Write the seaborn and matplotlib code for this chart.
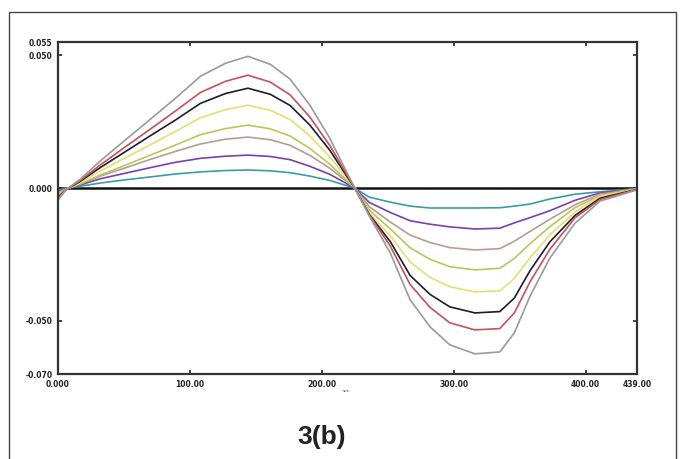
import matplotlib
matplotlib.use("Agg")
import matplotlib.pyplot as plt
import seaborn as sns
import pandas as pd
from matplotlib.patches import Rectangle

# x positions (same for all curves)
x_vals = [0, 6, 17, 32, 51, 70, 89, 108, 127, 144, 161, 176, 191, 206, 217, 225,
          236, 252, 267, 282, 297, 316, 335, 346, 358, 373, 392, 411, 439]

# curve values (units of 1e-3)
grey = [-4.5, -0.7, 3.4, 10.2, 18.1, 25.9, 33.8, 42.1, 47.0, 49.6, 46.6, 41.0, 31.2, 18.8, 7.9, 0,
        -10.5, -24.5, -42.1, -52.2, -59.0, -62.4, -61.7, -54.5, -40.6, -26.3, -13.2, -4.9, -0.7]
red = [-3.8, -0.6, 2.9, 8.7, 15.5, 22.2, 29.0, 36.0, 40.2, 42.5, 39.9, 35.1, 26.7, 16.1, 6.8, 0,
       -10.1, -21.9, -36.3, -44.9, -50.7, -53.4, -52.9, -47.0, -35.2, -23.0, -11.2, -4.3, -0.5]
black = [-3.4, -0.6, 2.6, 7.7, 13.7, 19.7, 25.6, 31.9, 35.6, 37.6, 35.3, 31.1, 23.7, 14.3, 6.0, 0,
         -9.9, -20.2, -32.9, -40.0, -44.7, -47.0, -46.5, -41.4, -31.0, -20.2, -10.3, -3.8, -0.5]
yellow = [-2.8, -0.5, 2.1, 6.4, 11.4, 16.3, 21.3, 26.5, 29.5, 31.2, 29.3, 25.8, 19.6, 11.8, 5.0, 0,
          -9.4, -18.0, -27.8, -33.6, -37.1, -39.1, -38.7, -34.0, -26.2, -17.6, -9.0, -3.1, -0.4]
ygreen = [-2.1, -0.4, 1.6, 4.9, 8.6, 12.4, 16.2, 20.1, 22.4, 23.7, 22.3, 19.6, 14.9, 9.0, 3.8, 0,
          -8.3, -15.4, -22.5, -26.8, -29.6, -30.8, -30.2, -26.5, -20.9, -14.5, -7.4, -2.8, -0.3]
tan = [-1.7, -0.3, 1.5, 4.5, 7.6, 10.8, 13.8, 16.6, 18.4, 19.2, 18.2, 16.1, 12.3, 7.5, 3.2, 0,
       -7.0, -12.8, -17.7, -20.5, -22.4, -23.3, -22.8, -20.0, -16.3, -11.7, -6.3, -2.3, -0.2]
purple = [-1.2, -0.2, 1.2, 3.5, 5.6, 7.7, 9.7, 11.2, 12.0, 12.4, 11.9, 10.7, 8.2, 5.2, 2.2, 0,
          -5.4, -9.2, -12.3, -13.6, -14.6, -15.4, -15.1, -13.1, -11.1, -8.5, -4.6, -1.8, -0.3]
teal = [-0.7, -0.1, 0.7, 1.9, 3.1, 4.2, 5.3, 6.1, 6.6, 6.8, 6.5, 5.8, 4.5, 2.9, 1.2, 0,
        -3.4, -5.3, -6.8, -7.5, -7.5, -7.5, -7.4, -6.8, -6.0, -4.1, -2.3, -1.4, -0.2]

curve_names = ["teal", "purple", "tan", "ygreen", "yellow", "black", "red", "grey"]
curve_values = [teal, purple, tan, ygreen, yellow, black, red, grey]
curve_colors = ["#3a9e9e", "#7a3fb0", "#b89c94", "#b5c95a", "#e6df6e", "#1c1c2c", "#c8505a", "#9a9a9a"]

x_ticks = [0, 100, 200, 300, 400, 439]
x_tick_labels = ["0.000", "100.00", "200.00", "300.00", "400.00", "439.00"]
y_ticks = [55, 50, 0, -50, -70]
y_tick_labels = ["0.055", "0.050", "0.000", "-0.050", "-0.070"]

rows = []
for name, vals in zip(curve_names, curve_values):
    for xv, yv in zip(x_vals, vals):
        rows.append({"x": xv, "y": yv, "curve": name})
df = pd.DataFrame(rows)

fig = plt.figure(figsize=(6.84, 4.59), dpi=100)
ax = fig.add_axes([58 / 684, 1 - 374 / 459, (637 - 58) / 684, (374 - 42) / 459])

sns.lineplot(data=df, x="x", y="y", hue="curve", hue_order=curve_names,
             palette=dict(zip(curve_names, curve_colors)), sort=False,
             linewidth=1.2, legend=False, ax=ax)

ax.axhline(0, color="#111111", lw=1.8, zorder=0)

ax.set_xlim(0, 439)
ax.set_ylim(-70, 55)
ax.set_xticks(x_ticks)
ax.set_xticklabels(x_tick_labels, fontsize=5.5, fontweight="bold")
ax.set_yticks(y_ticks)
ax.set_yticklabels(y_tick_labels, fontsize=5.5, fontweight="bold")
ax.set_xlabel("")
ax.set_ylabel("")
ax.tick_params(direction="in", length=3, width=1.2, top=True, right=True,
               labeltop=False, labelright=False, pad=4, colors="#222222")
for s in ax.spines.values():
    s.set_color("#333333")
    s.set_linewidth(1.6)

fig.text(347 / 684, 1 - 391 / 459, "sec.", fontsize=3, ha="center", va="center", color="#444444")
fig.text(322 / 684, 1 - 437 / 459, "3(b)", fontsize=19, fontweight="bold",
         family="Liberation Sans", ha="center", va="center", color="#222222")

frame = Rectangle((9 / 684, -0.1), (676 - 9) / 684, 1 - 12 / 459 + 0.1,
                  transform=fig.transFigure, fill=False, edgecolor="#444444", lw=1.0,
                  clip_on=False)
fig.add_artist(frame)

fig.savefig("out.png", dpi=100)
